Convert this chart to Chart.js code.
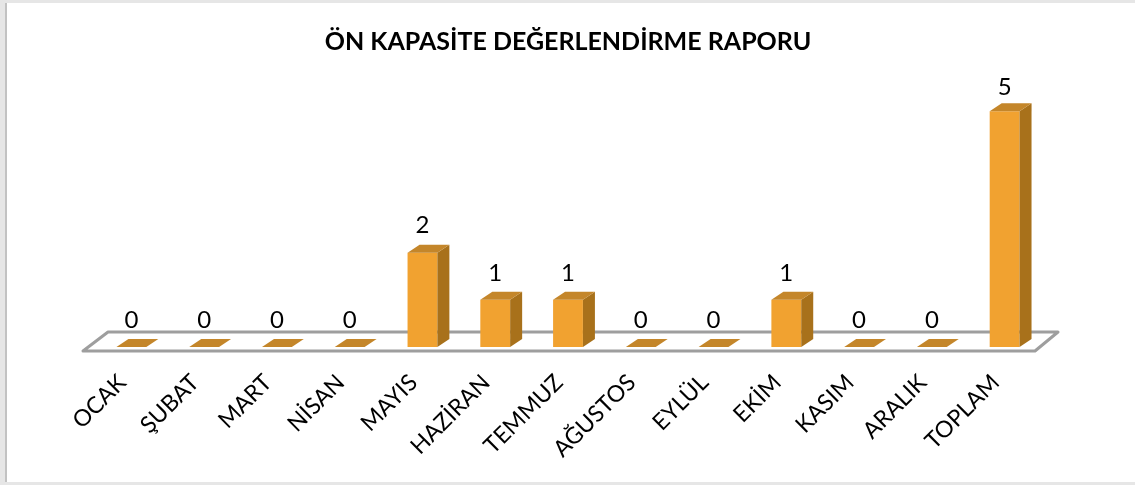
<!DOCTYPE html>
<html>
<head>
<meta charset="utf-8">
<script src="https://cdn.jsdelivr.net/npm/chart.js@4/dist/chart.umd.min.js"></script>
<style>
  html, body { margin: 0; padding: 0; background: #e6e6e6; }
  .frame {
    position: absolute; left: 5px; top: 3px; width: 1128px; height: 479px;
    background: #fff; border-left: 2px solid #c2c2c2;
  }
  #chart { position: absolute; left: 0; top: 0; }
</style>
</head>
<body>
<div class="frame"></div>
<canvas id="chart" width="1135" height="485"></canvas>
<script>
const months = ['OCAK', 'ŞUBAT', 'MART', 'NİSAN', 'MAYIS', 'HAZİRAN', 'TEMMUZ',
  'AĞUSTOS', 'EYLÜL', 'EKİM', 'KASIM', 'ARALIK', 'TOPLAM'];
const counts = [0, 0, 0, 0, 2, 1, 1, 0, 0, 1, 0, 0, 5];

const FRONT = '#f1a230';
const SIDE = '#a8711b';
const TOP = '#c4862a';
const DX = 12;
const DY = 8;

// floor + 3d faces + value labels
const box3d = {
  id: 'box3d',
  beforeDatasetsDraw(c) {
    const a = c.chartArea;
    const ctx = c.ctx;
    const fy = a.bottom + 4;
    const by = a.bottom - 15;
    const fl = a.left - 12, fr = a.right - 6;
    ctx.save();
    ctx.beginPath();
    ctx.moveTo(fl, fy);
    ctx.lineTo(fl + 25, by);
    ctx.lineTo(fr + 23, by);
    ctx.lineTo(fr, fy);
    ctx.closePath();
    ctx.fillStyle = '#fff';
    ctx.fill();
    ctx.lineJoin = 'round';
    ctx.lineWidth = 3;
    ctx.strokeStyle = '#9e9e9e';
    ctx.stroke();
    ctx.restore();
  },
  afterDatasetsDraw(c) {
    const ctx = c.ctx;
    const meta = c.getDatasetMeta(0);
    ctx.save();
    meta.data.forEach((bar, i) => {
      const { x, y, base, width } = bar.getProps(['x', 'y', 'base', 'width'], true);
      const l = x - width / 2, r = x + width / 2;
      if (base - y > 0.5) {
        ctx.fillStyle = SIDE;
        ctx.beginPath();
        ctx.moveTo(r, y);
        ctx.lineTo(r + DX, y - DY);
        ctx.lineTo(r + DX, base - DY);
        ctx.lineTo(r, base);
        ctx.closePath();
        ctx.fill();
      }
      ctx.fillStyle = TOP;
      ctx.beginPath();
      ctx.moveTo(l, y);
      ctx.lineTo(l + DX, y - DY);
      ctx.lineTo(r + DX, y - DY);
      ctx.lineTo(r, y);
      ctx.closePath();
      ctx.fill();

      ctx.fillStyle = '#000';
      ctx.font = '24px Lato';
      ctx.textAlign = 'center';
      ctx.textBaseline = 'middle';
      ctx.fillText(String(counts[i]), x, y - DY - (counts[i] > 3 ? 16 : 19));
    });
    ctx.restore();
  }
};

new Chart(document.getElementById('chart'), {
  type: 'bar',
  data: {
    labels: months,
    datasets: [{
      data: counts,
      backgroundColor: FRONT,
      borderWidth: 0,
      barPercentage: 0.41,
      categoryPercentage: 1
    }]
  },
  options: {
    responsive: false,
    animation: false,
    layout: { padding: { left: 95, right: 94, top: 0, bottom: 0 } },
    plugins: {
      legend: { display: false },
      tooltip: { enabled: false },
      title: {
        display: true,
        text: 'ÖN KAPASİTE DEĞERLENDİRME RAPORU',
        color: '#000',
        font: { family: 'Lato', size: 25, weight: 'bold' },
        padding: { top: 27, bottom: 7 }
      }
    },
    scales: {
      x: {
        grid: { display: false },
        border: { display: false },
        ticks: {
          color: '#000',
          font: { family: 'Lato', size: 23 },
          minRotation: 45,
          maxRotation: 45,
          autoSkip: false,
          labelOffset: -9,
          padding: 14
        },
        afterFit(scale) { scale.height = 138; }
      },
      y: {
        display: false,
        min: 0,
        max: 6
      }
    }
  },
  plugins: [box3d]
});
</script>
</body>
</html>
